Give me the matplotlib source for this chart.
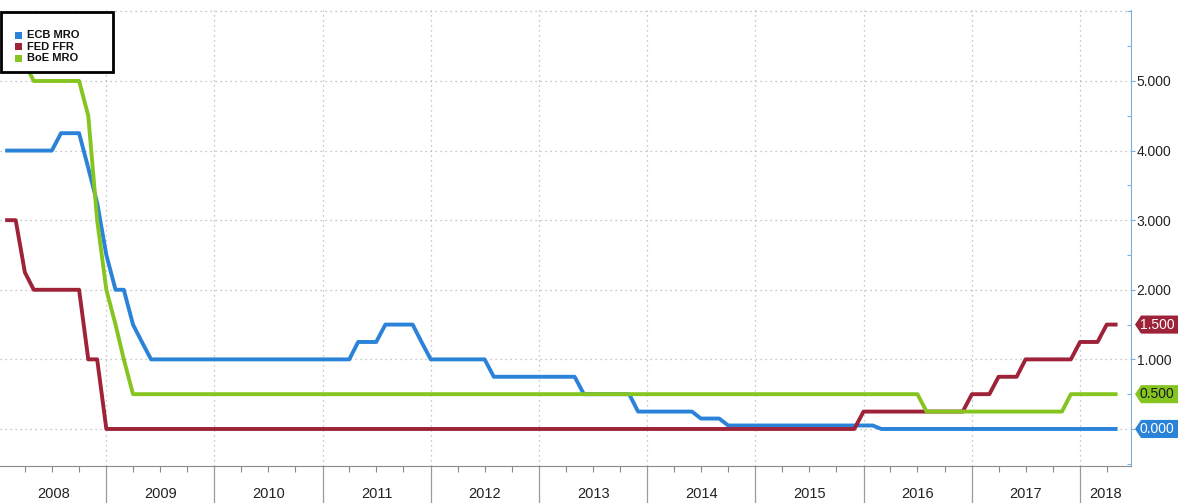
import matplotlib
matplotlib.use('Agg')
import matplotlib.pyplot as plt
import matplotlib.dates as mdates
import matplotlib.transforms as mtransforms
from matplotlib.patches import Rectangle, Polygon
import pandas as pd

# policy rates, monthly break points
ecb_dates = ['2008-02', '2008-07', '2008-08', '2008-10', '2008-11', '2008-12', '2009-01',
             '2009-02', '2009-03', '2009-04', '2009-05', '2009-06', '2011-04', '2011-05',
             '2011-07', '2011-08', '2011-11', '2011-12', '2012-01', '2012-07', '2012-08',
             '2013-05', '2013-06', '2013-11', '2013-12', '2014-06', '2014-07', '2014-09',
             '2014-10', '2016-02', '2016-03', '2018-05']
ecb_vals = [4.0, 4.0, 4.25, 4.25, 3.75, 3.25, 2.5,
            2.0, 2.0, 1.5, 1.25, 1.0, 1.0, 1.25,
            1.25, 1.5, 1.5, 1.25, 1.0, 1.0, 0.75,
            0.75, 0.5, 0.5, 0.25, 0.25, 0.15, 0.15,
            0.05, 0.05, 0.0, 0.0]

fed_dates = ['2008-02', '2008-03', '2008-04', '2008-05', '2008-10', '2008-11', '2008-12',
             '2009-01', '2015-12', '2016-01', '2016-12', '2017-01', '2017-03', '2017-04',
             '2017-06', '2017-07', '2017-12', '2018-01', '2018-03', '2018-04', '2018-05']
fed_vals = [3.0, 3.0, 2.25, 2.0, 2.0, 1.0, 1.0,
            0.0, 0.0, 0.25, 0.25, 0.5, 0.5, 0.75,
            0.75, 1.0, 1.0, 1.25, 1.25, 1.5, 1.5]

boe_dates = ['2008-02', '2008-03', '2008-04', '2008-05', '2008-10', '2008-11', '2008-12',
             '2009-01', '2009-02', '2009-03', '2009-04', '2016-07', '2016-08', '2017-11',
             '2017-12', '2018-05']
boe_vals = [5.5, 5.25, 5.25, 5.0, 5.0, 4.5, 3.0,
            2.0, 1.5, 1.0, 0.5, 0.5, 0.25, 0.25,
            0.5, 0.5]

years = list(range(2008, 2019))
y_ticks = [0, 1, 2, 3, 4, 5]

c_ecb = '#2a83d8'
c_fed = '#9e2238'
c_boe = '#86c420'

plt.rcParams['font.family'] = ['Liberation Sans', 'DejaVu Sans']

fig = plt.figure(figsize=(11.78, 5.03), dpi=100)
ax = fig.add_axes([0.0, 37 / 503, 1131 / 1178, 456 / 503])

ax.plot(pd.to_datetime(ecb_dates), ecb_vals, color=c_ecb, lw=2.8, zorder=3)
ax.plot(pd.to_datetime(fed_dates), fed_vals, color=c_fed, lw=2.8, zorder=3)
ax.plot(pd.to_datetime(boe_dates), boe_vals, color=c_boe, lw=2.8, zorder=3)

x0 = pd.Timestamp('2008-01-08')
x1 = pd.Timestamp('2018-06-22')
ax.set_xlim(x0, x1)
ax.set_ylim(-0.532, 6.02)

# grid
for v in range(0, 7):
    ax.axhline(v, color='#b4b4b4', lw=0.9, ls=(0, (1, 3)), zorder=1)
for yr in years[1:]:
    ax.axvline(pd.Timestamp(f'{yr}-01-01'), color='#b4b4b4', lw=0.9, ls=(0, (1, 3)), zorder=1)

# spines
ax.spines['left'].set_visible(False)
ax.spines['top'].set_visible(False)
ax.spines['bottom'].set_color('#8a8a8a')
ax.spines['right'].set_color('#7fb0dc')

# right axis (0.000 sits under the blue tag)
ax.yaxis.tick_right()
ax.set_yticks(y_ticks)
ax.set_yticklabels(['' if v == 0 else f'{v:.3f}' for v in y_ticks],
                   fontsize=10, color='#222222')
ax.set_yticks([-0.5, 0.5, 1.5, 2.5, 3.5, 4.5, 5.5, 6.0], minor=True)
ax.tick_params(axis='y', which='major', direction='out', length=3, width=0.8,
               color='#7fb0dc', pad=1)
ax.tick_params(axis='y', which='minor', direction='in', length=3, width=0.8,
               color='#7fb0dc')

# bottom axis: quarter ticks, year separators and labels
ax.xaxis.set_major_locator(mdates.YearLocator())
ax.xaxis.set_minor_locator(mdates.MonthLocator(bymonth=[4, 7, 10]))
ax.xaxis.set_major_formatter(plt.NullFormatter())
ax.tick_params(axis='x', which='major', length=0)
ax.tick_params(axis='x', which='minor', direction='out', length=4, width=0.8, color='#8a8a8a')

trans = mtransforms.blended_transform_factory(ax.transData, ax.transAxes)
for yr in years[1:]:
    ax.plot([pd.Timestamp(f'{yr}-01-01')] * 2, [0, -0.09], transform=trans,
            color='#9a9a9a', lw=0.9, clip_on=False)
for yr in years:
    a = max(pd.Timestamp(f'{yr}-01-01'), x0)
    b = min(pd.Timestamp(f'{yr + 1}-01-01'), x1)
    mid = a + (b - a) / 2
    ax.text(mid, -0.062, str(yr), transform=trans, ha='center', va='center',
            fontsize=10.5, color='#222222', clip_on=False)

# last value tags on the right axis
tagtrans = mtransforms.blended_transform_factory(ax.transAxes, ax.transData)
h = 0.13
for val, col, tc in [(fed_vals[-1], c_fed, 'white'), (boe_vals[-1], c_boe, '#1a1a1a'),
                     (ecb_vals[-1], c_ecb, 'white')]:
    poly = Polygon([(1135 / 1131, val), (1141 / 1131, val + h), (1.05, val + h),
                    (1.05, val - h), (1141 / 1131, val - h)], closed=True,
                   transform=tagtrans, facecolor=col, edgecolor='none',
                   clip_on=False, zorder=5)
    ax.add_patch(poly)
    ax.text(1140 / 1131, val, f'{val:.3f}', transform=tagtrans, ha='left', va='center',
            fontsize=10, color=tc, zorder=6, clip_on=False)

# legend box
fig.add_artist(Rectangle((1 / 1178, 1 - 72 / 503), 112 / 1178, 60 / 503,
                         transform=fig.transFigure, facecolor='white',
                         edgecolor='black', lw=2, zorder=10))
for i, (name, col) in enumerate([('ECB MRO', c_ecb), ('FED FFR', c_fed), ('BoE MRO', c_boe)]):
    yc = 1 - (35 + i * 11.5) / 503
    fig.add_artist(Rectangle((15 / 1178, yc - 3.5 / 503), 7 / 1178, 7 / 503,
                             transform=fig.transFigure, facecolor=col,
                             edgecolor='none', zorder=11))
    fig.text(27 / 1178, yc, name, fontsize=8, fontweight='bold', color='#111111',
             va='center', ha='left', zorder=12)

fig.savefig('out.png', dpi=100)
